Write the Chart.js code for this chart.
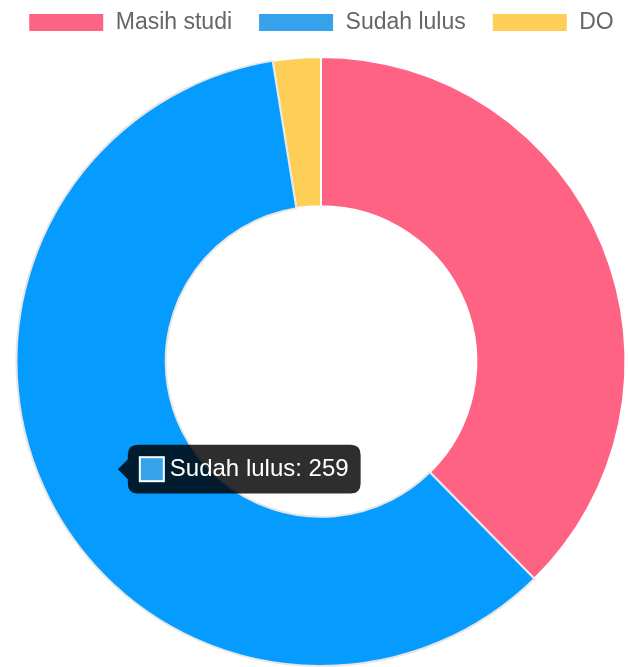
<!DOCTYPE html>
<html>
<head>
<meta charset="utf-8">
<script src="https://cdn.jsdelivr.net/npm/chart.js@4"></script>
<style>
  html, body { margin: 0; padding: 0; background: #fff; overflow: hidden; width: 628px; height: 667px; }
  #wrap { position: absolute; left: 0; top: -15px; width: 642px; height: 682px; }
</style>
</head>
<body>
<div id="wrap"><canvas id="c"></canvas></div>
<script>
const categories = ['Masih studi', 'Sudah lulus', 'DO'];
const values = [163, 259, 11];
const sliceColors = ['#FF6384', '#36A2EB', '#FFCE56'];
const activeIndex = 1;

const legendGap = {
  id: 'legendGap',
  beforeInit(chart) {
    const fit = chart.legend.fit;
    chart.legend.fit = function () { fit.call(this); this.height += 12; };
  }
};

Chart.Tooltip.positioners.lowered = function (elements) {
  const p = Chart.Tooltip.positioners.average.call(this, elements);
  return p ? { x: p.x, y: p.y + 4 } : p;
};

const chart = new Chart(document.getElementById('c'), {
  type: 'doughnut',
  data: {
    labels: categories,
    datasets: [{
      data: values,
      backgroundColor: sliceColors,
      borderColor: '#fff',
      borderWidth: 2,
      hoverOffset: 0
    }]
  },
  options: {
    responsive: true,
    maintainAspectRatio: false,
    animation: false,
    cutout: '51%',
    plugins: {
      legend: {
        position: 'top',
        labels: {
          boxWidth: 76,
          boxHeight: 19,
          padding: 26,
          color: '#666',
          font: { family: '"Liberation Sans", Arial, Helvetica, sans-serif', size: 23 }
        }
      },
      tooltip: {
        position: 'lowered',
        backgroundColor: 'rgba(0,0,0,0.82)',
        bodyFont: { family: '"Liberation Sans", Arial, Helvetica, sans-serif', size: 24 },
        bodyColor: '#fff',
        padding: { top: 10, bottom: 10, left: 12, right: 12 },
        cornerRadius: 10,
        caretSize: 10,
        caretPadding: 2,
        boxWidth: 24,
        boxHeight: 24,
        boxPadding: 4,
        callbacks: {
          title: () => '',
          label: (ctx) => ctx.label + ': ' + ctx.formattedValue
        }
      }
    }
  },
  plugins: [legendGap]
});

const act = [{ datasetIndex: 0, index: activeIndex }];
chart.setActiveElements(act);
chart.tooltip.setActiveElements(act, { x: 0, y: 0 });
chart.update();
</script>
</body>
</html>
